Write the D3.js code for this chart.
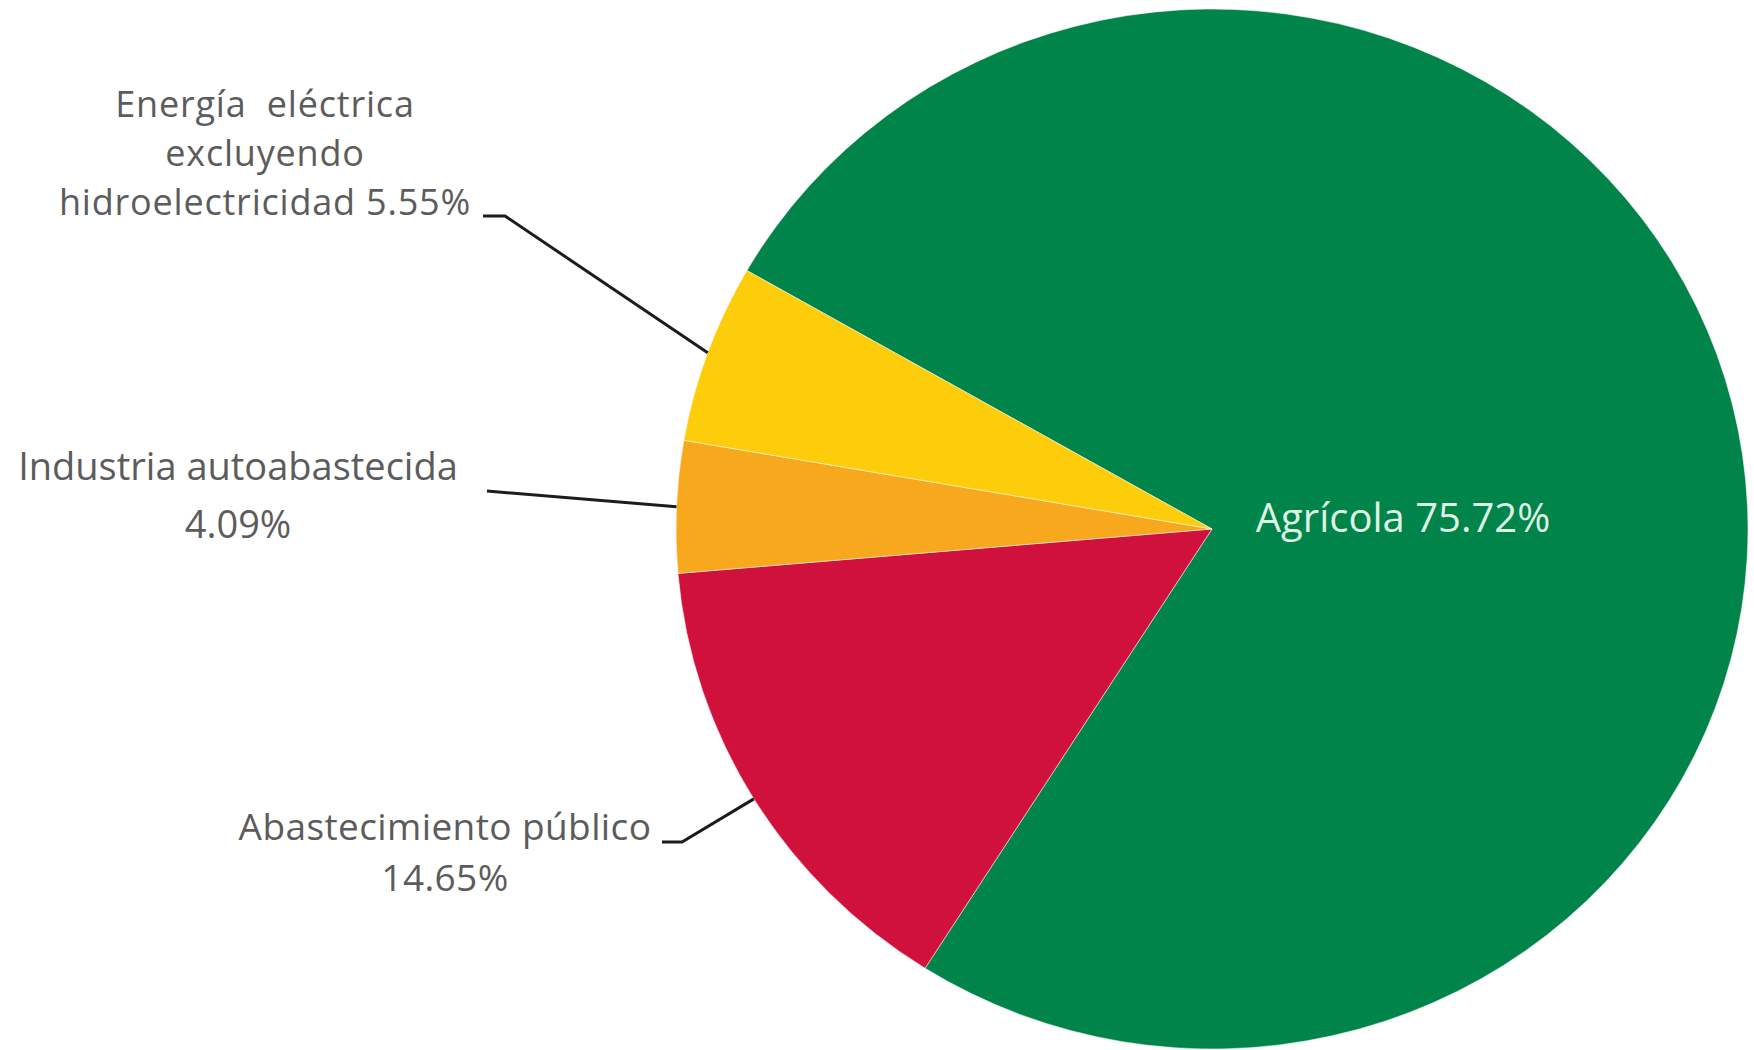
<!DOCTYPE html>
<html>
<head>
<meta charset="utf-8">
<script src="https://cdn.jsdelivr.net/npm/d3@7"></script>
<style>
    html, body { margin: 0; padding: 0; background: #ffffff; }
    #vis { width: 1754px; height: 1050px; }
    text { font-family: "Open Sans", "Noto Sans", sans-serif; white-space: pre; }
</style>
</head>
<body>
<div id="vis"></div>
<script>
// data (clockwise from the upper-left edge of the green slice)
const categories = ["Agrícola", "Abastecimiento público", "Industria autoabastecida", "Energía eléctrica excluyendo hidroelectricidad"];
const values = [75.72, 14.65, 4.09, 5.55];
const colours = ["#008449", "#d0113c", "#f8a81d", "#fdcd0b"];
// text of the labels, line by line (the percentage is added from values)
const labelLines = [
    ["Agrícola "],
    ["Abastecimiento público", ""],
    ["Industria autoabastecida", ""],
    ["Energía  eléctrica", "excluyendo", "hidroelectricidad "]
];

const width = 1754,
      height = 1050;

// the original pie is slightly squashed vertically
const cx = 1212, cy = 529, rx = 536, ry = 520;
const sy = ry / rx;

const svg = d3.select("#vis")
    .append("svg")
    .attr("width", width)
    .attr("height", height);

const pie = d3.pie()
    .sort(null)
    .value(d => d)
    .startAngle(-60.2 * Math.PI / 180)
    .endAngle(-60.2 * Math.PI / 180 + 2 * Math.PI);

const arcs = pie(values);

const arc = d3.arc().innerRadius(0).outerRadius(rx);
const edge = d3.arc().innerRadius(rx).outerRadius(rx);

const g = svg.append("g")
    .attr("transform", `translate(${cx},${cy}) scale(1,${sy})`);

g.selectAll(".slice")
    .data(arcs)
    .enter()
    .append("path")
    .attr("class", "slice")
    .attr("d", arc)
    .attr("fill", (d, i) => colours[i])
    .attr("stroke", "#ffffff")
    .attr("stroke-opacity", 0.5)
    .attr("stroke-width", 1);

const pct = d3.format(".2f");

// label layout: anchor x, baseline of each line, leader start / elbow
const layout = [
    { x: 1403, y: [532], fill: "#dcf3e6", size: 40, spacing: 0 },
    { x: 445, y: [840, 891], fill: "#5c5c5c", size: 37, spacing: 0.4, leader: [[662, 842], [682, 842]] },
    { x: 238, y: [480, 538], fill: "#5c5c5c", size: 38, spacing: 0, leader: [[487, 491]] },
    { x: 265, y: [117, 166, 215], fill: "#5c5c5c", size: 36, spacing: 0.8, leader: [[483, 216], [505, 216]] }
];

arcs.forEach((d, i) => {
    const lay = layout[i];
    const lines = labelLines[i].slice();
    lines[lines.length - 1] += pct(values[i]) + "%";

    lines.forEach((line, j) => {
        svg.append("text")
            .attr("text-anchor", "middle")
            .attr("font-size", lay.size)
            .attr("letter-spacing", lay.spacing)
            .attr("fill", lay.fill)
            .attr("x", lay.x)
            .attr("y", lay.y[j])
            .text(line);
    });

    if (lay.leader) {
        // leader ends on the rim at the middle of the slice
        const p = edge.centroid(d);
        const pts = lay.leader.concat([[cx + p[0], cy + p[1] * sy]]);
        svg.append("path")
            .attr("d", d3.line()(pts))
            .attr("fill", "none")
            .attr("stroke", "#1c1c1c")
            .attr("stroke-width", 3);
    }
});
</script>
</body>
</html>
